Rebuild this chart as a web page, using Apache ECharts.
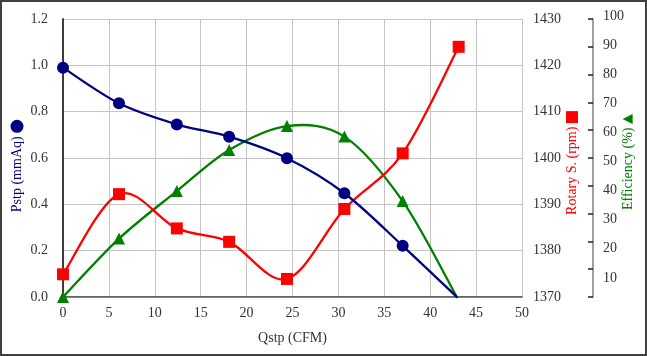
<!DOCTYPE html>
<html>
<head>
<meta charset="utf-8">
<script src="https://cdn.jsdelivr.net/npm/echarts@6/dist/echarts.min.js"></script>
<style>
html,body{margin:0;padding:0;background:#fff;}
#c{width:647px;height:356px;}
</style>
</head>
<body>
<div id="c"></div>
<script>
// Data
var qstp = [0, 6.1, 12.4, 18.1, 24.4, 30.65, 37.0, 42.9];
var qstpRotary = [0, 6.1, 12.4, 18.1, 24.4, 30.65, 37.0, 43.1];
var pstp = [0.99, 0.836, 0.745, 0.692, 0.599, 0.448, 0.221, 0];
var rotary = [1374.9, 1392.2, 1384.8, 1381.9, 1373.9, 1389.0, 1401.0, 1424.0];
var efficiency = [0, 21, 38.1, 52.9, 61.5, 57.7, 34.5, 0];
var xTicks = [0, 50, 5];
var pstpTicks = [0, 1.2, 0.2];
var rotaryTicks = [1370, 1430, 10];
var effTicks = [0, 100, 10];

var FONT = 'Liberation Serif';
var NAVY = '#000080', RED = '#ff0000', GREEN = '#008000';
var LABEL = '#333333';

function pairs(xs, ys, hideLast) {
  return ys.map(function (v, i) {
    var d = { value: [xs[i], v] };
    if (hideLast && i === ys.length - 1) d.symbol = 'none';
    return d;
  });
}

// Spline curve (Catmull-Rom style, like a spreadsheet "smoothed line"),
// drawn segment by segment through the axis scales via api.coord.
function splineSeries(xs, ys, yAxisIndex, color) {
  var n = ys.length;
  return {
    type: 'custom', xAxisIndex: 0, yAxisIndex: yAxisIndex, z: 2, silent: true,
    data: ys.slice(0, n - 1).map(function (v, i) { return [xs[i], v]; }),
    renderItem: function (params, api) {
      var i = params.dataIndex;
      function P(k) { k = Math.max(0, Math.min(n - 1, k)); return api.coord([xs[k], ys[k]]); }
      var p0 = P(i - 1), p1 = P(i), p2 = P(i + 1), p3 = P(i + 2);
      var t = 1 / 6;
      return {
        type: 'bezierCurve',
        shape: {
          x1: p1[0], y1: p1[1], x2: p2[0], y2: p2[1],
          cpx1: p1[0] + (p2[0] - p0[0]) * t, cpy1: p1[1] + (p2[1] - p0[1]) * t,
          cpx2: p2[0] - (p3[0] - p1[0]) * t, cpy2: p2[1] - (p3[1] - p1[1]) * t
        },
        style: { stroke: color, lineWidth: 2.3, fill: null, lineCap: 'round' }
      };
    }
  };
}

var chart = echarts.init(document.getElementById('c'), null, { renderer: 'canvas' });
chart.setOption({
  animation: false,
  textStyle: { fontFamily: FONT },
  grid: [
    { left: 63, right: 125, top: 19, bottom: 59 },
    { left: 63, right: 125, top: 16, height: 291 }
  ],
  xAxis: [
    {
      type: 'value', gridIndex: 0, min: xTicks[0], max: xTicks[1], interval: xTicks[2],
      axisLine: { lineStyle: { color: '#333', width: 1.5 } },
      axisTick: { show: false },
      axisLabel: { color: LABEL, fontSize: 14, fontFamily: FONT, margin: 9 },
      splitLine: { show: true, lineStyle: { color: '#c4c4c4', width: 1 } },
      name: 'Qstp (CFM)', nameLocation: 'middle', nameGap: 34,
      nameTextStyle: { color: LABEL, fontSize: 14, fontFamily: FONT }
    },
    {
      type: 'value', gridIndex: 0, position: 'top', min: xTicks[0], max: xTicks[1],
      axisLine: { show: true, lineStyle: { color: '#808080', width: 1 } },
      axisTick: { show: false }, axisLabel: { show: false }, splitLine: { show: false }
    },
    {
      type: 'value', gridIndex: 1, min: xTicks[0], max: xTicks[1], show: false
    }
  ],
  yAxis: [
    {
      type: 'value', gridIndex: 0, position: 'left', min: pstpTicks[0], max: pstpTicks[1], interval: pstpTicks[2],
      axisLine: { show: true, lineStyle: { color: '#333', width: 1.5 } },
      axisTick: { show: false },
      axisLabel: { color: LABEL, fontSize: 14, fontFamily: FONT, margin: 15,
        formatter: function (v) { return v.toFixed(1); } },
      splitLine: { show: true, lineStyle: { color: '#c4c4c4', width: 1 } }
    },
    {
      type: 'value', gridIndex: 0, position: 'right', min: rotaryTicks[0], max: rotaryTicks[1], interval: rotaryTicks[2],
      axisLine: { show: true, lineStyle: { color: '#333', width: 1.5 } },
      axisTick: { show: false },
      axisLabel: { color: LABEL, fontSize: 14, fontFamily: FONT, margin: 11,
        formatter: function (v) { return String(v); } },
      splitLine: { show: false }
    },
    {
      type: 'value', gridIndex: 0, position: 'right', offset: 71, min: effTicks[0], max: effTicks[1], interval: effTicks[2],
      axisLine: { show: true, lineStyle: { color: '#808080', width: 1.5 } },
      axisTick: { show: true, inside: true, length: 5, lineStyle: { color: '#222', width: 1.5 } },
      axisLabel: { show: false },
      splitLine: { show: false }
    },
    {
      type: 'value', gridIndex: 1, position: 'right', offset: 71, min: effTicks[0], max: effTicks[1], interval: effTicks[2],
      axisLine: { show: false }, axisTick: { show: false },
      axisLabel: { color: LABEL, fontSize: 14, fontFamily: FONT, margin: 10, showMinLabel: false },
      splitLine: { show: false }
    }
  ],
  graphic: [
    { type: 'rect', shape: { x: 1, y: 1, width: 645, height: 354 }, silent: true,
      style: { fill: 'none', stroke: '#404040', lineWidth: 2 } },
    { type: 'text', x: 17, y: 166, rotation: Math.PI / 2, silent: true,
      style: { text: 'Pstp (mmAq) {s|}', fill: NAVY, font: '14px "Liberation Serif"',
        align: 'center', verticalAlign: 'middle',
        rich: { s: { width: 13, height: 13, backgroundColor: NAVY, borderRadius: 6.5 } } } },
    { type: 'text', x: 572, y: 163, rotation: Math.PI / 2, silent: true,
      style: { text: 'Rotary S. (rpm) {s|}', fill: RED, font: '14px "Liberation Serif"',
        align: 'center', verticalAlign: 'middle',
        rich: { s: { width: 12, height: 12, backgroundColor: RED } } } },
    { type: 'text', x: 628, y: 162, rotation: Math.PI / 2, silent: true,
      style: { text: 'Efficiency (%) {t|▲}', fill: GREEN, font: '14px "Liberation Serif"',
        align: 'center', verticalAlign: 'middle',
        rich: { t: { fill: GREEN, fontSize: 13, fontFamily: 'DejaVu Sans' } } } }
  ],
  series: [
    splineSeries(qstp, efficiency, 2, GREEN),
    splineSeries(qstpRotary, rotary, 1, RED),
    splineSeries(qstp, pstp, 0, NAVY),
    {
      type: 'scatter', name: 'Efficiency', xAxisIndex: 0, yAxisIndex: 2,
      data: pairs(qstp, efficiency, true),
      symbol: 'triangle', symbolSize: 12, itemStyle: { color: GREEN, opacity: 1 }, z: 3
    },
    {
      type: 'scatter', name: 'Rotary', xAxisIndex: 0, yAxisIndex: 1,
      data: pairs(qstpRotary, rotary, false),
      symbol: 'rect', symbolSize: 12, itemStyle: { color: RED, opacity: 1 }, z: 4
    },
    {
      type: 'scatter', name: 'Pstp', xAxisIndex: 0, yAxisIndex: 0,
      data: pairs(qstp, pstp, true),
      symbol: 'circle', symbolSize: 12, itemStyle: { color: NAVY, opacity: 1 }, z: 5
    }
  ]
});
</script>
</body>
</html>
